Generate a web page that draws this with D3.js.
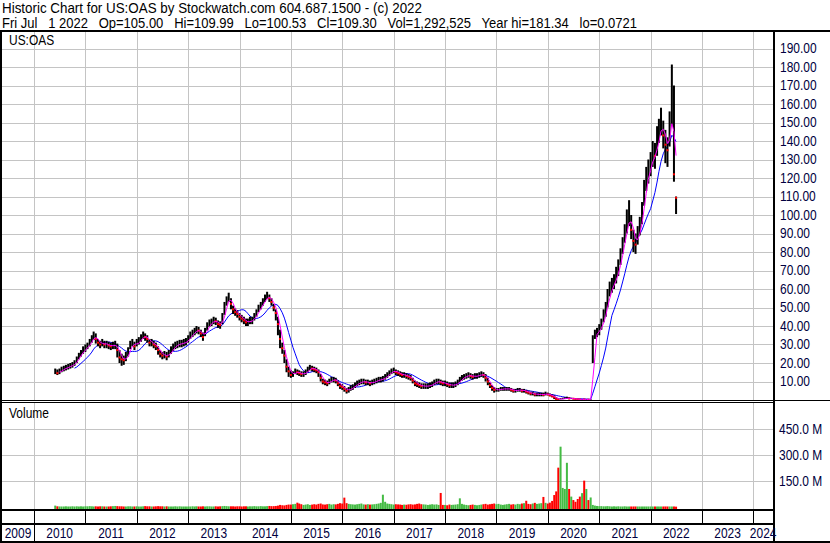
<!DOCTYPE html>
<html>
<head>
<meta charset="utf-8">
<script src="https://cdn.jsdelivr.net/npm/d3@7"></script>
<style>
body { margin: 0; background: #fff; }
svg { display: block; font-family: "Liberation Sans", Arial, sans-serif; }
</style>
</head>
<body>
<script>
var width = 830,
    height = 543;

var title1 = "Historic Chart for US:OAS by Stockwatch.com 604.687.1500 - (c) 2022";
var title2 = "Fri Jul   1 2022   Op=105.00   Hi=109.99   Lo=100.53   Cl=109.30   Vol=1,292,525   Year hi=181.34   lo=0.0721";
var symbol = "US:OAS";

// half-month periods, first one is 1 Jun 2010
var closes = [
  15.5, 14.5, 15.5, 16.5, 17, 17.5, 18, 18.5, 19, 20, 22, 24, 25.5, 27,
  28, 29.5, 31, 33, 35, 33, 31, 30, 31, 30, 30, 29.5, 29, 29.5, 30, 27, 23, 22, 21.5, 23, 26, 30, 31, 29,
  31, 32, 33.5, 35, 34, 33, 31, 31, 30, 29, 27, 25, 24, 24.5, 23.5, 25, 27, 28.5, 29.5, 30, 30.5, 30.5, 31, 31.5,
  33, 35, 36, 37, 38, 37.5, 36, 34, 37, 40, 41.5, 42, 43, 42.5, 41, 40.5, 44, 50, 54, 56, 52, 49, 47.5, 46.5,
  45, 44, 43, 42, 42, 43, 43, 45, 47, 49.5, 51, 53, 55, 56.5, 55, 53, 50, 47, 41, 33, 28, 24, 18, 15.5,
  13.5, 14, 15.5, 15, 14.5, 14, 14, 15, 16.5, 17.5, 17, 16.5, 16, 15, 12, 10, 9.5, 9, 10, 11, 11, 10.5, 9, 7.5,
  7, 6, 5, 5.5, 6.5, 7, 8, 9, 9.5, 10, 10, 9.5, 9.5, 9, 9.5, 10, 10.5, 11, 11, 11.5, 12.5, 13.5, 14.5, 15.5,
  16, 15, 14.5, 14, 13.5, 13.5, 13, 12.5, 12, 10.5, 9, 8.5, 8, 7.5, 7.5, 7.5, 7.5, 8, 8.5, 9.5, 10, 10, 9.5, 9,
  9, 8.5, 8, 8, 8, 8.5, 9.5, 11, 12, 12.5, 13, 13.5, 13, 12.5, 13, 13, 13.5, 14, 13.5, 12, 10, 8, 6.5, 5.5,
  5.5, 5.5, 6, 6, 6, 6, 6, 5.5, 5, 5, 5.5, 5.5, 5, 5, 4.5, 4, 3.5, 3.5, 3, 3, 3, 3, 2.8, 3.5,
  3, 2.5, 2, 1.5, 0.5, 0.4, 0.6, 0.7, 0.9, 1, 0.8, 0.8, 0.7, 0.5, 0.4, 0.3, 0.35, 0.3, 0.3, 0.2, 0.2, 33, 36, 37,
  38, 41, 46, 49, 55, 60, 62, 64, 68, 72, 78, 84, 90, 96, 101, 92, 86, 84, 90, 95, 101, 114, 120, 124,
  128, 134, 132, 140, 146, 150, 143, 138, 135, 148, 165, 122, 109.3
];

var highs = [
  17, 16.5, 17, 18, 18.5, 19, 19.5, 20, 20.5, 21.5, 23.5, 25.5, 27, 29,
  30, 31, 33, 35, 37, 36, 33, 32, 33, 32, 32, 31.5, 31, 31.5, 32, 30.5, 27, 25, 24, 26, 28.5, 32, 33, 31.5,
  33, 34, 35.5, 37, 36, 35, 33, 33, 32, 31, 29, 27, 26, 26.5, 26, 27, 29, 30.5, 31.5, 32, 32.5, 32.5, 33, 33.5,
  35, 37, 38, 39, 40, 39.5, 38, 36.5, 39, 42, 43.5, 44, 45, 44.5, 43, 42.5, 47, 53, 56, 58, 55, 51, 49.5, 48.5,
  47, 46, 45, 44, 44, 45, 45, 47, 49, 51.5, 53, 55, 57, 58.5, 57, 55, 52, 49, 45, 38, 31, 27, 22, 18,
  16, 15.5, 17, 16.5, 16, 15.5, 15.5, 16.5, 18, 19, 18.5, 18, 17.5, 16.5, 14, 11.5, 11, 10.5, 11.5, 12.5, 12.5, 12, 10.5, 9,
  8.5, 7.5, 6.5, 7, 8, 8.5, 9.5, 10.5, 11, 11.5, 11.5, 11, 11, 10.5, 11, 11.5, 12, 12.5, 12.5, 13, 14, 15, 16, 17,
  17.5, 16.5, 16, 15.5, 15, 15, 14.5, 14, 13.5, 12, 10.5, 10, 9.5, 9, 9, 9, 9, 9.5, 10, 11, 11.5, 11.5, 11, 10.5,
  10.5, 10, 9.5, 9.5, 9.5, 10, 11, 12.5, 13.5, 14, 14.5, 15, 14.5, 14, 14.5, 14.5, 15, 15.5, 15, 14, 12, 9.5, 8, 7,
  6.5, 6.5, 7, 7, 7, 7, 7, 6.5, 6, 6, 6.5, 6.5, 6, 6, 5.5, 5, 4.5, 4.5, 4, 4, 4, 4, 4, 4.5,
  4, 3.5, 3, 2.5, 1.5, 1, 1, 1.2, 1.5, 1.8, 1.5, 1.2, 1, 0.8, 0.7, 0.5, 0.5, 0.5, 0.5, 0.4, 0.4, 35, 38, 39,
  41, 44, 49, 53, 60, 64, 66, 68, 72, 76, 82, 88, 95, 103, 108, 100, 92, 90, 94, 99, 107, 119, 126, 130,
  134, 140, 139, 148, 152, 158, 151, 146, 142, 156, 181.34, 170, 109.99
];

var lows = [
  14, 13.5, 14, 15, 15.5, 16, 16.5, 17, 17.5, 18.5, 20, 22, 23.5, 25,
  26, 27.5, 29, 31, 32.5, 30.5, 29, 28, 29, 28, 28, 27.5, 27, 27.5, 27.5, 23, 20, 18.5, 19, 21, 23.5, 27.5, 29, 27,
  29, 30, 31.5, 33, 32, 31, 29, 29, 28, 27, 24.5, 23, 22, 22.5, 21.5, 23, 25, 26.5, 27.5, 28, 28.5, 28.5, 29, 29.5,
  31, 33, 34, 35, 36, 35.5, 34, 32, 34.5, 37.5, 39.5, 40, 41, 40.5, 39, 38.5, 41, 46, 51, 53, 49, 46.5, 45.5, 44.5,
  43, 42, 41, 40, 40, 41, 41, 43, 45, 47.5, 49, 51, 53, 54.5, 53, 51, 48, 43, 35, 28, 25, 20, 15, 12.5,
  12, 12.5, 14, 13.5, 13, 12.5, 12.5, 13.5, 15, 16, 15.5, 15, 14.5, 12.5, 10, 8.5, 8, 7.5, 8.5, 9.5, 9.5, 9, 7.5, 6,
  5.5, 4.5, 3.5, 4, 5, 5.5, 6.5, 7.5, 8, 8.5, 8.5, 8, 8, 7.5, 8, 8.5, 9, 9.5, 9.5, 10, 11, 12, 13, 14,
  14.5, 13.5, 13, 12.5, 12, 12, 11.5, 11, 10.5, 9, 7.5, 7, 6.5, 6, 6, 6, 6, 6.5, 7, 8, 8.5, 8.5, 8, 7.5,
  7.5, 7, 6.5, 6.5, 6.5, 7, 8, 9.5, 10.5, 11, 11.5, 12, 11.5, 11, 11.5, 11.5, 12, 12.5, 12, 10, 8, 6.5, 5, 4,
  4.5, 4.5, 5, 5, 5, 5, 5, 4.5, 4, 4, 4.5, 4.5, 4, 4, 3.5, 3, 2.5, 2.5, 2, 2, 2, 2, 2, 2.5,
  2.5, 2, 1.5, 0.5, 0.2, 0.2, 0.3, 0.4, 0.5, 0.6, 0.5, 0.5, 0.4, 0.3, 0.2, 0.2, 0.2, 0.2, 0.1, 0.1, 0.1, 20, 33, 34,
  35, 38, 42, 45, 50, 56, 58, 60, 63, 67, 73, 79, 85, 90, 94, 87, 80, 79, 84, 89, 95, 105, 113, 117,
  121, 126, 125, 132, 139, 143, 136, 128, 126, 137, 148, 118, 100.53
];

// volume in millions
var volumes = [
  8, 4, 3, 3, 3, 4, 3, 3, 4, 3, 4, 3, 4, 3,
  4, 4, 5, 4, 3, 4, 3, 4, 4, 3, 3, 3, 4, 5, 6, 5, 4, 4, 3, 3, 4, 4, 3, 3,
  4, 3, 3, 4, 5, 4, 4, 3, 3, 4, 5, 4, 4, 3, 4, 3, 3, 3, 4, 3, 4, 3, 3, 3,
  3, 3, 4, 3, 4, 3, 3, 4, 3, 4, 4, 3, 3, 4, 3, 4, 5, 6, 5, 4, 4, 4, 3, 4,
  4, 3, 4, 4, 3, 4, 4, 5, 4, 4, 5, 4, 4, 5, 6, 5, 5, 6, 8, 12, 10, 9, 12, 14,
  14, 16, 18, 25, 20, 16, 12, 14, 16, 12, 14, 16, 14, 18, 20, 15, 14, 16, 18, 14, 16, 15, 18, 22,
  20, 54, 22, 18, 16, 15, 14, 16, 18, 20, 15, 14, 16, 14, 15, 16, 18, 20, 24, 71, 30, 20, 18, 16,
  14, 16, 15, 14, 12, 14, 13, 15, 16, 14, 15, 18, 20, 16, 15, 14, 12, 14, 16, 14, 15, 12, 81, 12,
  12, 10, 14, 12, 13, 14, 16, 50, 18, 14, 12, 10, 12, 14, 12, 10, 12, 14, 16, 18, 14, 16, 18, 20,
  16, 18, 14, 12, 14, 16, 18, 14, 16, 14, 18, 16, 20, 22, 36, 18, 16, 20, 24, 18, 20, 22, 58, 24,
  20, 25, 35, 69, 90, 227, 348, 110, 104, 255, 104, 60, 40, 30, 46, 60, 80, 152, 104, 40, 55, 12, 8, 6,
  5, 5, 4, 4, 5, 4, 3, 4, 3, 4, 3, 3, 4, 3, 3, 3, 3, 3, 3, 3, 3, 3, 3, 3,
  3, 3, 3, 3, 3, 3, 3, 3, 3, 3, 3, 3, 2
];

var priceTicks = [10, 20, 30, 40, 50, 60, 70, 80, 90, 100, 110, 120, 130, 140, 150, 160, 170, 180, 190];
var volumeTicks = [150, 300, 450];
var yearLabels = ["2009", "2010", "2011", "2012", "2013", "2014", "2015", "2016",
                  "2017", "2018", "2019", "2020", "2021", "2022", "2023", "2024"];

var labelColor = "#000040";
var squeeze = "scale(0.855,1)";

function periodDate(i) {
  return new Date(2010, 5 + Math.floor(i / 2), i % 2 ? 16 : 1);
}

function movingAvg(arr, n) {
  return arr.map(function(d, i) {
    if (i < n - 1) return null;
    return d3.mean(arr.slice(i - n + 1, i + 1));
  });
}

var svg = d3.select("body").append("svg")
    .attr("width", width)
    .attr("height", height);

svg.append("rect")
    .attr("width", width)
    .attr("height", height)
    .attr("fill", "#fff");

var x = d3.scaleTime()
    .domain([new Date(2010, 0, 1), new Date(2024, 0, 1)])
    .range([34, 753.3]);

var y = d3.scaleLinear()
    .domain([0, 190])
    .range([400, 48.5]);

var yv = d3.scaleLinear()
    .domain([0, 450])
    .range([507, 429]);

var defs = svg.append("defs");
defs.append("clipPath").attr("id", "mainClip")
  .append("rect").attr("x", 2).attr("y", 32).attr("width", 771).attr("height", 368);
defs.append("clipPath").attr("id", "volClip")
  .append("rect").attr("x", 2).attr("y", 403).attr("width", 771).attr("height", 106);

// header
svg.append("text")
    .attr("x", 2).attr("y", 13)
    .attr("textLength", 420).attr("lengthAdjust", "spacingAndGlyphs")
    .style("font-size", "14px").style("white-space", "pre")
    .text(title1);
svg.append("text")
    .attr("x", 2).attr("y", 27.5)
    .attr("textLength", 635).attr("lengthAdjust", "spacingAndGlyphs")
    .style("font-size", "14px").style("white-space", "pre")
    .text(title2);

// grid
var yearStarts = d3.range(2010, 2025).map(function(yr) { return new Date(yr, 0, 1); });
var grid = svg.append("g")
    .attr("stroke", "#c4c4c4")
    .attr("stroke-width", 1)
    .attr("shape-rendering", "crispEdges");

grid.selectAll(".vmain").data(yearStarts).enter().append("line")
    .attr("x1", function(d) { return Math.round(x(d)) + 0.5; })
    .attr("x2", function(d) { return Math.round(x(d)) + 0.5; })
    .attr("y1", 32).attr("y2", 400);
grid.selectAll(".vvol").data(yearStarts).enter().append("line")
    .attr("x1", function(d) { return Math.round(x(d)) + 0.5; })
    .attr("x2", function(d) { return Math.round(x(d)) + 0.5; })
    .attr("y1", 403).attr("y2", 509);
grid.selectAll(".hmain").data(priceTicks).enter().append("line")
    .attr("x1", 2).attr("x2", 773)
    .attr("y1", function(d) { return Math.round(y(d)) + 0.5; })
    .attr("y2", function(d) { return Math.round(y(d)) + 0.5; });
grid.selectAll(".hvol").data(volumeTicks).enter().append("line")
    .attr("x1", 2).attr("x2", 773)
    .attr("y1", function(d) { return Math.round(yv(d)) + 0.5; })
    .attr("y2", function(d) { return Math.round(yv(d)) + 0.5; });

// price bars
var mainG = svg.append("g").attr("clip-path", "url(#mainClip)");
var idx = d3.range(closes.length);
var falling = idx.filter(function(i) { return i > 0 && closes[i] < closes[i - 1]; });

var fastMA = movingAvg(closes, 3),
    slowMA = movingAvg(closes, 10);

var line = d3.line()
    .defined(function(d) { return d != null; })
    .x(function(d, i) { return x(periodDate(i)); })
    .y(function(d) { return y(d); });

mainG.append("path")
    .datum(slowMA)
    .attr("fill", "none")
    .attr("stroke", "#0000ff")
    .attr("stroke-width", 1)
    .attr("d", line);

mainG.selectAll(".bar").data(idx).enter().append("rect")
    .attr("x", function(i) { return x(periodDate(i)) - 1; })
    .attr("width", 2)
    .attr("y", function(i) { return y(highs[i]); })
    .attr("height", function(i) { return Math.max(1, y(lows[i]) - y(highs[i])); })
    .attr("fill", "#000");

// red tick at the close of falling periods
mainG.selectAll(".close").data(falling).enter().append("rect")
    .attr("x", function(i) { return x(periodDate(i)) - 1; })
    .attr("width", 2)
    .attr("y", function(i) { return y(closes[i]) - 1; })
    .attr("height", 2)
    .attr("fill", "#ff0000");

mainG.append("path")
    .datum(fastMA)
    .attr("fill", "none")
    .attr("stroke", "#ff00ff")
    .attr("stroke-width", 1)
    .attr("d", line);

// volume bars
var volG = svg.append("g").attr("clip-path", "url(#volClip)");
volG.selectAll(".vbar").data(volumes).enter().append("rect")
    .attr("x", function(d, i) { return x(periodDate(i)) - 1; })
    .attr("width", 2)
    .attr("y", function(d) { return yv(d); })
    .attr("height", function(d) { return 509 - yv(d); })
    .attr("fill", function(d, i) {
      return (i > 0 && closes[i] < closes[i - 1]) ? "#ff0000" : "#44bb44";
    });

// labels inside panels
svg.append("text")
    .attr("transform", "translate(9,44.5) " + squeeze)
    .style("font-size", "14px")
    .text(symbol);
svg.append("text")
    .attr("transform", "translate(9,417.5) " + squeeze)
    .style("font-size", "14px")
    .text("Volume");

// frame
var frame = svg.append("g").attr("fill", "#000");
frame.append("rect").attr("x", 0).attr("y", 30).attr("width", 830).attr("height", 2);
frame.append("rect").attr("x", 0).attr("y", 30).attr("width", 2).attr("height", 513);
frame.append("rect").attr("x", 773).attr("y", 30).attr("width", 2).attr("height", 513);
frame.append("rect").attr("x", 0).attr("y", 400).attr("width", 830).attr("height", 1);
frame.append("rect").attr("x", 0).attr("y", 402).attr("width", 774).attr("height", 1);
frame.append("rect").attr("x", 0).attr("y", 509).attr("width", 774).attr("height", 2);
frame.append("rect").attr("x", 0).attr("y", 523).attr("width", 774).attr("height", 2);
frame.append("rect").attr("x", 0).attr("y", 541).attr("width", 830).attr("height", 2);

frame.selectAll(".ytick").data(yearStarts).enter().append("rect")
    .attr("x", function(d) { return Math.round(x(d)); })
    .attr("y", 511).attr("width", 1).attr("height", 12);
frame.append("rect").attr("x", Math.round(x(yearStarts[0]))).attr("y", 525).attr("width", 1).attr("height", 16);

// right axes
var yAxis = d3.axisRight(y)
    .tickValues(priceTicks)
    .tickSize(0)
    .tickPadding(0)
    .tickFormat(d3.format(".2f"));

var ya = svg.append("g")
    .attr("transform", "translate(780,0)")
    .call(yAxis);
ya.select(".domain").remove();
ya.attr("font-family", null).attr("font-size", 14);
ya.selectAll("text").attr("fill", labelColor).attr("transform", squeeze);

var vAxis = d3.axisRight(yv)
    .tickValues(volumeTicks)
    .tickSize(0)
    .tickPadding(0)
    .tickFormat(function(d) { return d3.format(".1f")(d) + " M"; });

var va = svg.append("g")
    .attr("transform", "translate(779,0)")
    .call(vAxis);
va.select(".domain").remove();
va.attr("font-family", null).attr("font-size", 14);
va.selectAll("text").attr("fill", labelColor).attr("transform", squeeze);

// year labels
svg.append("g").selectAll("text").data(yearLabels).enter().append("text")
    .attr("transform", function(d) {
      var yr = +d;
      var a = Math.max(2, x(new Date(yr, 0, 1))),
          b = Math.min(773, x(new Date(yr + 1, 0, 1)));
      return "translate(" + ((a + b) / 2) + ",537.5) " + squeeze;
    })
    .attr("text-anchor", "middle")
    .attr("fill", labelColor)
    .style("font-size", "14px")
    .text(function(d) { return d; });
</script>
</body>
</html>
